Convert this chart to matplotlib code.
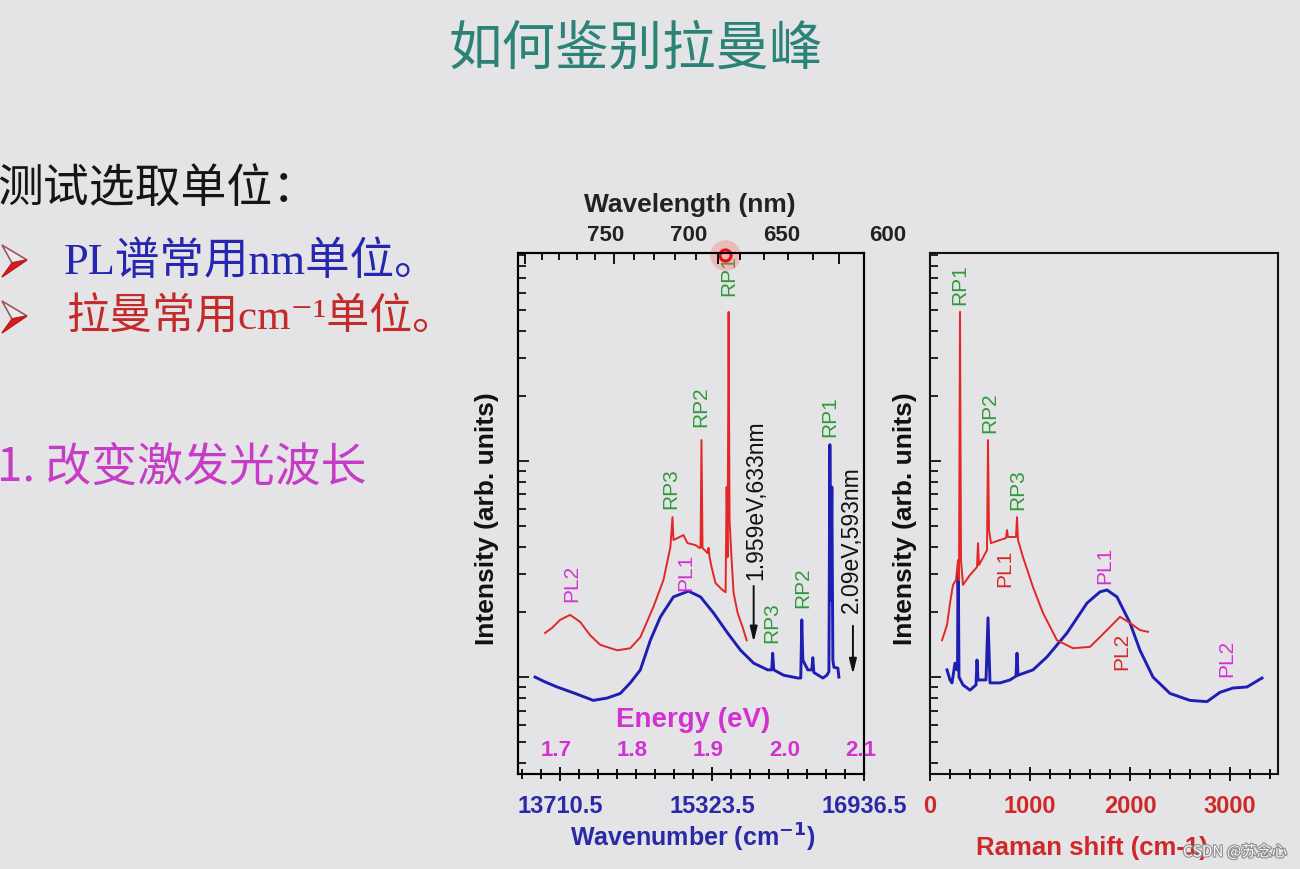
import matplotlib
matplotlib.use("Agg")
import matplotlib.pyplot as plt
import matplotlib.patheffects as pe
import matplotlib.transforms as mtransforms
from matplotlib.patches import Polygon
from matplotlib.ticker import FixedLocator, LogLocator, NullFormatter

# ---------------- data ----------------
# Left panel, x = wavenumber (cm-1), y = intensity (arb. units, log)
exc633_wn = [13550, 13625, 13710, 13817, 13923, 14030, 14136, 14317, 14455, 14562,
             14700, 14807, 14881, 14903, 14913, 14956, 15020, 15062, 15148, 15190,
             15201, 15211, 15222, 15275, 15286, 15297, 15318, 15360, 15435, 15467,
             15478, 15488, 15499, 15509, 15531, 15552, 15595, 15648, 15691]
exc633_int = [1.60, 1.69, 1.84, 1.94, 1.80, 1.56, 1.41, 1.33, 1.36, 1.53,
              2.11, 2.81, 4.00, 5.50, 4.31, 4.40, 4.54, 4.17, 4.08, 3.96,
              3.96, 12.5, 3.96, 3.75, 3.96, 3.59, 3.23, 2.72, 2.53, 2.47,
              7.58, 3.59, 49.0, 5.33, 3.48, 2.45, 1.98, 1.70, 1.48]

exc593_wn = [13444, 13550, 13678, 13870, 14062, 14211, 14349, 14455, 14562, 14668,
             14775, 14913, 15073, 15201, 15339, 15488, 15627, 15765, 15914, 15957,
             15967, 15978, 16084, 16234, 16265, 16276, 16287, 16340, 16383, 16393,
             16404, 16500, 16542, 16564, 16574, 16585, 16595, 16606, 16617, 16659, 16670]
exc593_int = [1.00, 0.95, 0.90, 0.84, 0.78, 0.80, 0.84, 0.94, 1.08, 1.48,
              1.90, 2.35, 2.50, 2.35, 1.98, 1.60, 1.33, 1.16, 1.08, 1.08,
              1.29, 1.08, 1.02, 0.99, 0.99, 1.84, 1.20, 1.08, 1.08, 1.23,
              1.05, 0.99, 1.02, 1.06, 11.9, 2.27, 7.58, 1.20, 1.11, 1.10, 1.00]

# Right panel, x = Raman shift (cm-1)
raman633_shift = [120, 170, 200, 230, 260, 280, 290, 300, 310, 330, 400, 470, 480, 490,
                  570, 580, 590, 610, 700, 760, 770, 780, 860, 870, 880, 930, 1030,
                  1130, 1270, 1430, 1600, 1770, 1900, 2000, 2100, 2180]
raman633_int = [1.48, 1.74, 2.20, 2.67, 2.81, 3.48, 2.81, 49.0, 3.48, 2.67, 2.97, 3.23, 4.17, 3.30,
                3.87, 12.5, 4.79, 4.17, 4.31, 4.40, 4.79, 4.45, 4.45, 5.50, 4.31, 3.59, 2.61,
                1.98, 1.48, 1.36, 1.38, 1.65, 1.90, 1.78, 1.65, 1.62]

raman593_shift = [170, 200, 220, 250, 270, 275, 280, 285, 290, 330, 400, 460, 470, 480,
                  560, 580, 600, 700, 800, 860, 870, 880, 1030, 1170, 1370, 1570, 1700,
                  1770, 1870, 2000, 2100, 2230, 2400, 2600, 2770, 2900, 3030, 3170, 3320]
raman593_int = [1.08, 0.97, 0.94, 1.16, 1.08, 1.08, 3.03, 2.27, 1.00, 0.92, 0.87, 0.92, 1.20, 0.97,
                0.97, 1.88, 0.94, 0.94, 0.97, 1.01, 1.29, 1.02, 1.08, 1.24, 1.60, 2.20, 2.48,
                2.53, 2.35, 1.78, 1.33, 1.00, 0.84, 0.78, 0.77, 0.85, 0.89, 0.90, 0.99]

# Axis / tick labels
wn_tick_values = [13710.5, 15323.5, 16936.5]
wn_tick_labels = ["13710.5", "15323.5", "16936.5"]
energy_tick_values = [1.7, 1.8, 1.9, 2.0, 2.1]
energy_tick_labels = ["1.7", "1.8", "1.9", "2.0", "2.1"]
wavelength_ticks_nm = [600, 650, 700, 750]
wavelength_labels = ["750", "700", "650", "600"]
raman_tick_values = [0, 1000, 2000, 3000]
raman_tick_labels = ["0", "1000", "2000", "3000"]

# Peak annotations: (text, x, y, colour key)
left_labels = [("PL2", 13838, 2.72, "mag"), ("PL1", 15041, 3.06, "mag"),
               ("RP3", 14881, 7.42, "grn"), ("RP2", 15201, 17.8, "grn"),
               ("RP1", 15499, 71.8, "grn"), ("RP3", 15957, 1.78, "grn"),
               ("RP2", 16287, 2.58, "grn"), ("RP1", 16574, 16.0, "grn")]
right_labels = [("RP1", 300, 65.3, "grn"), ("RP2", 600, 16.7, "grn"),
                ("RP3", 880, 7.34, "grn"), ("PL1", 750, 3.2, "red"),
                ("PL1", 1750, 3.30, "mag"), ("PL2", 1920, 1.32, "red"),
                ("PL2", 2970, 1.22, "mag")]
laser_lines = [("1.959eV,633nm", 15790, 6.6, 15765, 2.72, 1.41),
               ("2.09eV,593nm", 16800, 4.31, 16819, 1.78, 1.0)]

# ---------------- style ----------------
BG = "#e4e4e6"
RED = "#e32626"
BLUE = "#1e1eb4"
GREEN = "#2f9a3a"
MAG = "#d232d2"
TEAL = "#2b8378"
COLS = {"mag": MAG, "grn": GREEN, "red": "#d62a2a"}
SANS = ["Liberation Sans", "DejaVu Sans"]
CJK = ["Noto Sans CJK SC", "DejaVu Sans"]
SERIF_CJK = ["Liberation Serif", "Noto Sans CJK SC", "DejaVu Sans"]

W, H = 1300, 869
fig = plt.figure(figsize=(13, 8.69), dpi=100, facecolor=BG)

def frac_box(l, t, r, b):
    return [l / W, 1 - b / H, (r - l) / W, (b - t) / H]

def fpt(x, y):
    return (x / W, 1 - y / H)

axL = fig.add_axes(frac_box(518, 253, 864, 774))
axR = fig.add_axes(frac_box(930, 253, 1278, 774))

YLIM = (0.356, 91.8)
for ax in (axL, axR):
    ax.set_facecolor(BG)
    ax.set_yscale("log")
    ax.set_ylim(*YLIM)
    for sp in ax.spines.values():
        sp.set_linewidth(1.5)
        sp.set_color("#111111")
    ax.yaxis.set_major_locator(LogLocator(base=10))
    ax.yaxis.set_minor_locator(LogLocator(base=10, subs=(2, 3, 4, 5, 6, 7, 8, 9)))
    ax.yaxis.set_major_formatter(NullFormatter())
    ax.yaxis.set_minor_formatter(NullFormatter())
    ax.tick_params(axis="y", which="major", direction="in", length=8, width=1.2,
                   left=True, right=False, labelleft=False)
    ax.tick_params(axis="y", which="minor", direction="in", length=5.5, width=1.2,
                   left=True, right=False, labelleft=False)

# ---- left panel ----
axL.plot(exc593_wn, exc593_int, color=BLUE, lw=2.1, zorder=3)
axL.plot(exc633_wn, exc633_int, color=RED, lw=1.4, zorder=4)
axL.set_xlim(13263, 16936.5)
axL.xaxis.set_major_locator(FixedLocator(wn_tick_values))
axL.set_xticklabels(wn_tick_labels)
axL.xaxis.set_minor_locator(FixedLocator([13710.5 + k * 201.625 for k in range(-2, 17)]))
axL.tick_params(axis="x", which="major", direction="inout", length=10, width=1.3,
                pad=10, labelsize=17, labelcolor="#2a2aa8")
axL.tick_params(axis="x", which="minor", direction="inout", length=7, width=1.3)
for lab in axL.get_xticklabels():
    lab.set_fontweight("bold")
    lab.set_family(SANS)

axT = axL.twiny()
axT.set_xlim(axL.get_xlim())
axT.xaxis.set_major_locator(FixedLocator([1e7 / l for l in wavelength_ticks_nm]))
axT.xaxis.set_minor_locator(FixedLocator([1e7 / l for l in range(600, 760, 10)]))
axT.xaxis.set_major_formatter(NullFormatter())
axT.tick_params(axis="x", which="major", direction="in", length=8, width=1.3)
axT.tick_params(axis="x", which="minor", direction="in", length=5, width=1.3)
for sp in axT.spines.values():
    sp.set_linewidth(1.5)

blendL = mtransforms.blended_transform_factory(axL.transData, axL.transAxes)
wl_label_x = [14189, 15073, 16058, 17192]
for lab, x in zip(wavelength_labels, wl_label_x):
    axL.text(x, 1.033, lab, transform=blendL, ha="center", va="center",
             fontsize=16, fontweight="bold", color="#222222", family=SANS)
axL.text(0.497, 1.092, "Wavelength (nm)", transform=axL.transAxes, ha="center",
         va="center", fontsize=19, fontweight="bold", color="#222222", family=SANS)

for lab, e in zip(energy_tick_labels, energy_tick_values):
    axL.text(e * 8065.54 - 40, 0.046, lab, transform=blendL, ha="center", va="center",
             fontsize=16, fontweight="bold", color=MAG, family=SANS)
axL.text(0.506, 0.104, "Energy (eV)", transform=axL.transAxes, ha="center",
         va="center", fontsize=20, fontweight="bold", color=MAG, family=SANS)

axL.text(0.506, -0.123, "Wavenumber (cm$^{\\mathbf{-1}}$)", transform=axL.transAxes,
         ha="center", va="center", fontsize=18, fontweight="bold", color="#2a2aa8",
         family=SANS)
axL.text(-0.09, 0.491, "Intensity (arb. units)", transform=axL.transAxes, rotation=90,
         ha="center", va="center", fontsize=19, fontweight="bold", color="#111111",
         family=SANS)

for txt, x, y, c in left_labels:
    axL.text(x, y, txt, rotation=90, ha="center", va="center", fontsize=15,
             color=COLS[c], family=SANS, zorder=6)
for txt, tx, ty, ax_x, y0, y1 in laser_lines:
    axL.text(tx, ty, txt, rotation=90, ha="center", va="center", fontsize=16.5,
             color="#111111", family=SANS, zorder=6)
    axL.annotate("", xy=(ax_x, y1), xytext=(ax_x, y0),
                 arrowprops=dict(arrowstyle="-|>,head_width=0.22,head_length=0.9",
                                 color="#111111", lw=1.4), zorder=6)

# pointer mark from the video (red dot on the top axis)
axL.plot([15456], [89.9], "o", ms=22, color="#ff5a5a", alpha=0.3, mec="none",
         clip_on=False, zorder=10)
axL.plot([15456], [89.9], "o", ms=8, mfc="#f4b0b0", mec="#e01010", mew=2.2,
         clip_on=False, zorder=11)

# ---- right panel ----
axR.plot(raman593_shift, raman593_int, color=BLUE, lw=2.1, zorder=3)
axR.plot(raman633_shift, raman633_int, color=RED, lw=1.4, zorder=4)
axR.set_xlim(0, 3480)
axR.xaxis.set_major_locator(FixedLocator(raman_tick_values))
axR.set_xticklabels(raman_tick_labels)
axR.xaxis.set_minor_locator(FixedLocator(list(range(0, 3481, 200))))
axR.tick_params(axis="x", which="major", direction="inout", length=10, width=1.3,
                pad=10, labelsize=17, labelcolor="#d02828")
axR.tick_params(axis="x", which="minor", direction="inout", length=7, width=1.3)
for lab in axR.get_xticklabels():
    lab.set_fontweight("bold")
    lab.set_family(SANS)
axR.text(0.466, -0.142, "Raman shift (cm-1)", transform=axR.transAxes, ha="center",
         va="center", fontsize=18.5, fontweight="bold", color="#d02828", family=SANS)
axR.text(-0.072, 0.491, "Intensity (arb. units)", transform=axR.transAxes, rotation=90,
         ha="center", va="center", fontsize=19, fontweight="bold", color="#111111",
         family=SANS)
for txt, x, y, c in right_labels:
    axR.text(x, y, txt, rotation=90, ha="center", va="center", fontsize=15,
             color=COLS[c], family=SANS, zorder=6)

# ---------------- slide text ----------------
fig.text(636 / W, 1 - 49 / H, "如何鉴别拉曼峰", ha="center", va="center",
         fontsize=38.5, color=TEAL, family=CJK)
fig.text(-0.002, 1 - 189 / H, "测试选取单位：", ha="left", va="center",
         fontsize=33, color="#151515", family=CJK)

# bullet arrowheads (3-D style "➢")
for yc in (261, 317):
    upper = Polygon([fpt(2, yc - 16), fpt(27, yc - 1), fpt(12, yc + 2)], closed=True,
                    transform=fig.transFigure, facecolor="#ececee",
                    edgecolor="#9a5a5a", lw=1.2)
    lower = Polygon([fpt(12, yc + 2), fpt(27, yc - 1), fpt(2, yc + 16)], closed=True,
                    transform=fig.transFigure, facecolor="#d81c24",
                    edgecolor="#c01818", lw=1.0)
    fig.patches.extend([upper, lower])

fig.text(64 / W, 1 - 262 / H, "PL谱常用nm单位。", ha="left", va="center",
         fontsize=32, color="#2626b0", family=SERIF_CJK)
fig.text(66 / W, 1 - 318 / H, "拉曼常用cm⁻¹单位。", ha="left", va="center",
         fontsize=31, color="#c42a2a", family=SERIF_CJK)
fig.text(-0.002, 1 - 468 / H, "1. 改变激发光波长", ha="left", va="center",
         fontsize=33, color="#c63cc6", family=CJK)
fig.text(1183 / W, 1 - 852 / H, "CSDN @苏念心", ha="left", va="center",
         fontsize=11, color="#fbfbfb", family=CJK,
         path_effects=[pe.withStroke(linewidth=1.6, foreground="#8c8c8c")])

fig.savefig("out.png", dpi=100, facecolor=BG)
